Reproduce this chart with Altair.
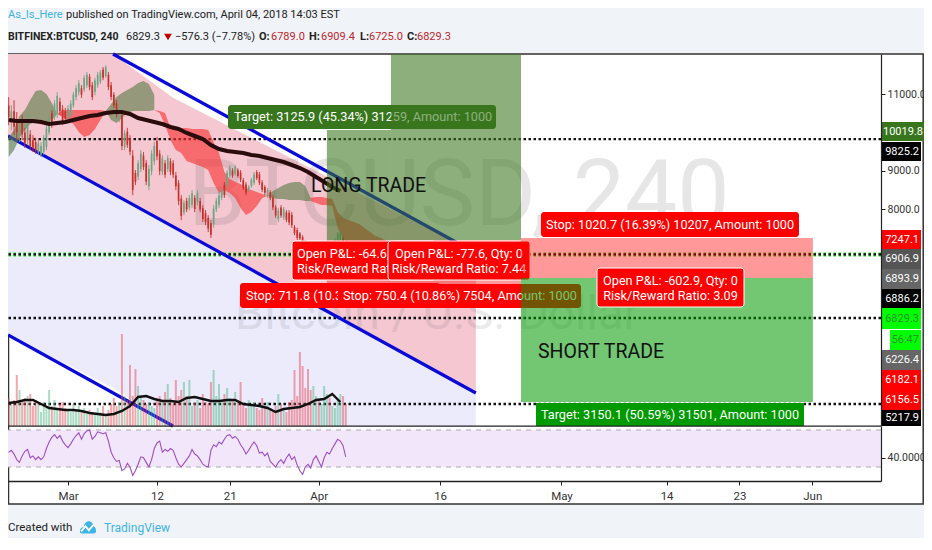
import altair as alt
import pandas as pd

FONT = "Roboto, Liberation Sans, sans-serif"

# ---------- data ----------
START = "2018-02-21 16:00"
OPENS = [10700,10250,10550,10350,9900,10250,10000,9800,9950,9800,9750,9480,9420,9500,9620,10000,10500,10400,10500,10800,10600,10550,10400,10450,10700,10920,11050,11150,11120,11230,11450,11230,11050,11230,11320,11640,11470,11500,11230,10980,10750,10330,10450,9620,10020,9850,9400,8950,8850,9050,9400,9200,8600,9000,9250,9780,9450,8980,9200,9050,9250,9200,8880,8680,8280,7920,8220,8050,8120,8300,8180,8220,8030,7900,7780,7640,7620,8000,8120,8300,8640,8630,8880,9010,8920,9020,8960,8760,8650,8490,8610,8690,8970,8910,8700,8580,8350,8450,8300,8050,7740,8050,7790,7920,7910,7860,7540,7460,7370,7280,7150,7000,6930,6730,6790,6880,6680,6790,6840,7040,6940,7000,7130,7180,7250,7120]
HIGHS = [10920,10710,10840,10530,10270,10450,10120,10450,10060,9930,9860,9800,9750,9930,10190,10450,10580,10840,11050,10900,10710,10640,10710,10840,11050,11230,11360,11230,11490,11570,11520,11310,11420,11570,11620,11700,11750,11570,11310,11050,10840,10640,10530,10060,10120,9930,9540,9020,9280,9540,9490,9280,9150,9540,9750,9880,9540,9410,9280,9410,9330,9280,8970,8760,8370,8240,8300,8370,8500,8370,8500,8300,8110,7980,7850,7720,8110,8300,8450,8560,8710,9020,9150,9070,9150,9070,9020,8820,8710,8630,8820,8970,9020,8970,8760,8630,8560,8500,8370,8110,8040,8110,8060,7980,7980,7930,7590,7520,7410,7330,7200,7070,7000,6940,7000,6940,6890,7000,7050,7100,7150,7260,7410,7460,7310,7200]
LOWS = [10190,10060,9930,9800,9750,9800,9600,9670,9540,9490,9440,9410,9360,9410,9540,9930,10120,10320,10380,10450,10190,10270,10320,10380,10640,10840,10970,10900,11050,11160,11100,10840,10970,11160,11260,11360,11420,11100,10840,10640,10380,10270,9540,9540,9600,9410,8370,8630,8760,8970,9020,8630,8500,8890,9150,9280,8890,8890,8820,8970,8890,8820,8500,8110,7720,7850,7930,7980,8040,7930,8110,7930,7670,7590,7410,7260,7520,7930,8040,8240,8300,8560,8820,8820,8870,8820,8710,8500,8370,8450,8560,8630,8760,8630,8450,8370,8300,8240,7980,7780,7670,7780,7720,7670,7590,7520,7330,7200,7200,7070,6890,6730,6630,6680,6740,6630,6630,6740,6790,6790,6890,6940,7070,7120,7000,6790]
CLOSES = [10400,10550,10150,10000,10150,9950,9720,10300,9650,9600,9520,9720,9650,9850,10100,10380,10220,10750,10950,10550,10300,10350,10620,10750,10980,11150,11280,10980,11420,11500,11180,10920,11350,11500,11560,11420,11700,11180,10920,10700,10450,10580,9650,9980,9680,9500,8500,8720,9200,9450,9100,8720,9050,9450,9650,9380,9000,9320,8900,9330,8980,8900,8600,8220,7830,8170,8000,8300,8420,8010,8430,8000,7750,7670,7500,7340,8020,8220,8370,8500,8370,8950,9090,8880,9100,8870,8770,8560,8430,8590,8770,8910,8810,8690,8510,8430,8510,8290,8050,7840,7970,7840,8000,7730,7660,7590,7380,7260,7240,7120,6950,6800,6700,6890,6950,6690,6840,6950,7000,6850,7100,7200,7350,7400,7060,6829.3]
VOLUMES = [28,22,26,51,36,24,28,30,32,20,26,22,14,24,18,36,20,26,16,22,24,18,16,14,22,16,20,14,18,12,16,14,12,18,14,20,12,16,22,28,20,24,92,30,26,61,30,57,40,28,26,22,24,20,18,26,30,26,34,42,28,22,46,30,36,44,30,46,20,24,26,18,32,24,22,44,56,30,42,26,32,38,28,26,34,24,44,22,18,26,20,24,18,16,28,20,24,18,14,20,32,22,18,14,24,26,56,30,74,60,38,57,36,40,30,26,22,40,32,28,20,18,26,32,30,22]
RSI = [46,48,44,38,35,42,47,49,40,42,38,41,38,41,50,57,62,65,61,64,58,54,51,55,60,64,67,60,66,69,70,60,63,68,67,66,67,58,46,40,36,37,26,28,34,30,21,26,33,41,40,35,30,38,50,56,58,46,49,47,50,48,40,33,30,34,38,42,49,44,42,38,33,31,30,48,54,52,57,55,60,64,65,61,63,60,54,50,44,48,53,57,53,45,46,42,45,36,33,30,35,38,34,40,44,38,41,32,26,22,30,33,29,38,42,36,30,40,46,44,50,55,60,58,53,41]
VOLUME_MA = [23,24,26,26,22,18,17,16,16,15,13,12,11,12,15,20,29,30,27,25,25,24,28,29,27,25,25,26,26,22,21,20,18,14,17,18,19,22,26,27,32,24]
EMA = [10324,10298,10298,10298,10272,10220,10246,10272,10324,10376,10428,10454,10506,10532,10532,10480,10376,10324,10272,10220,10142,10090,9986,9908,9830,9674,9570,9518,9492,9466,9414,9388,9336,9284,9232,9154,9076,8972,8842,8712,8582,8478]

CLOUD_PATCHES = [
    ("a", "up", 0,
     [9882,10064,10428,10584,10844,11078,11104,11000,10766,10480],
     [9362,9544,9856,10064,10220,10272,10272,10246,10324,10480]),
    ("b", "down", 9,
     [10480,10584,10584,10584,10584,10584,10584,10584,10584,10558],
     [10480,10402,10324,10220,10012,9882,9934,10090,10324,10558]),
    ("c", "up", 18,
     [10558,10740,10922,11026,11104,11182,11286,11338,11260,10974],
     [10558,10324,10246,10376,10506,10558,10558,10558,10558,10584]),
    ("d", "down", 27,
     [10584,10558,10506,10116,10116,10116,10116,10090,10090,10090,10064,9752,9466,8972,8790,8712,8660,8556,8504,8452,8400,8348],
     [10584,10506,10194,9804,9544,9466,9258,9206,9154,9102,9024,8686,8426,8504,8426,8296,8036,7854,7932,8088,8296,8348]),
    ("e", "up", 48,
     [8348,8478,8556,8634,8686,8712,8712,8608,8296],
     [8348,8296,8270,8270,8244,8244,8244,8218,8218]),
    ("f", "down", 56,
     [8296,8322,8322,8296,8270],
     [8218,8166,8114,8114,8088]),
    ("g", "down", 60,
     [8270,7932,7776,7724,7672,7620,7516,7412,7308,7256,7178],
     [8088,7516,7256,7074,6944,6944,6996,7048,7074,7100,7126]),
]

CHANNEL_DATES = ["2018-02-21T14:00:00Z", "2018-03-06T13:30:00Z", "2018-03-13T23:30:00Z", "2018-04-20T10:00:00Z"]
CHANNEL_TOP = [12040, 12040, 10900, 6866]
CHANNEL_MID = [9908, 8410, 7553, 3226]
CHANNEL_LOW = [4734, 3360, 2368, 2368]
LOW_LINE_DATES = ["2018-02-21T14:00:00Z", "2018-03-13T23:30:00Z"]
LOW_LINE_VALUES = [4734, 2368]
DOTTED_LEVELS = [9825.2, 6829.3, 5176, 2940]
GREEN_LEVEL = [6829.3]

X_TICKS = ["2018-03-01T00:00:00Z", "2018-03-12T00:00:00Z", "2018-03-21T00:00:00Z", "2018-04-01T00:00:00Z",
           "2018-04-16T00:00:00Z", "2018-05-01T00:00:00Z", "2018-05-14T00:00:00Z", "2018-05-23T00:00:00Z",
           "2018-06-01T00:00:00Z"]
PRICE_TICKS = [11000, 9000, 8000]
RSI_TICKS = [40]

# ---------- layout helpers (page pixels) ----------
ISO = "%Y-%m-%dT%H:%M:%SZ"
dates = pd.date_range(START, periods=len(OPENS), freq="8h").strftime(ISO).tolist()
cloud_dates = pd.date_range(START, periods=71, freq="16h").strftime(ISO).tolist()

W, H = 873, 427
X_SCALE = alt.Scale(type="utc", domain=["2018-02-21T14:00:00Z", "2018-06-09T12:00:00Z"], nice=False, padding=0)
PRICE_SCALE = alt.Scale(domain=[2368, 12040], range=[372, 0], nice=False, zero=False)
VOL_SCALE = alt.Scale(domain=[0, 100], range=[372, 272], nice=False, zero=False)
RSI_SCALE = alt.Scale(domain=[14.9, 74.3], range=[427, 372], nice=False, zero=False)
X_AXIS = alt.Axis(
    values=X_TICKS, labelExpr="utcdate(datum.value)==1 ? utcFormat(datum.value,'%b') : utcFormat(datum.value,'%-d')",
    grid=False, domainColor="#222222", domainWidth=1.6, tickColor="#222222", tickSize=4, labelColor="#333333",
    labelFont=FONT, labelFontSize=11.5, labelPadding=5, labelOverlap=False, zindex=1, title=None)

def X(f="d"):
    return alt.X(f"{f}:T", scale=X_SCALE, axis=X_AXIS, title=None)

def P(f="p", axis=None, scale=PRICE_SCALE):
    return alt.Y(f"{f}:Q", scale=scale, axis=axis, title=None)

def box(x0, x1, y0, y1, color, stroke=None, radius=0, opacity=1.0, sw=1.0):
    kw = dict(color=color, cornerRadius=radius, opacity=opacity, clip=False)
    if stroke:
        kw.update(stroke=stroke, strokeWidth=sw)
    return alt.Chart(pd.DataFrame({"a": [0]})).mark_rect(**kw).encode(
        x=alt.value(x0 - 8), x2=alt.value(x1 - 8), y=alt.value(y0 - 54), y2=alt.value(y1 - 54))

def label(t, x, y, size=12.7, color="#222222", bold=False, align="left", opacity=1.0, font=FONT):
    return alt.Chart(pd.DataFrame({"t": [t]})).mark_text(
        font=font, fontSize=size, color=color, align=align, baseline="middle",
        fontWeight="bold" if bold else "normal", opacity=opacity, clip=False
    ).encode(x=alt.value(x - 8), y=alt.value(y - 54), text="t:N")

layers = []

# frame and panes
layers.append(alt.Chart(pd.DataFrame({"a": [0]})).mark_rect(color="white", stroke="#333333", strokeWidth=1.5, clip=False).encode(
    x=alt.value(0.5), x2=alt.value(915.2), y=alt.value(0), y2=alt.value(450)))

# channel fills
chan = pd.DataFrame({"d": CHANNEL_DATES, "t": CHANNEL_TOP, "m": CHANNEL_MID, "l": CHANNEL_LOW})
layers.append(alt.Chart(chan).mark_area(color="#f4c7d1").encode(x=X(), y=P("t"), y2=alt.Y2("m:Q")))
layers.append(alt.Chart(chan).mark_area(color="#ebebfc").encode(x=X(), y=P("m"), y2=alt.Y2("l:Q")))

# watermark
layers.append(label("BTCUSD, 240", 188, 197, size=93, color="#444444", opacity=0.13))
layers.append(label("Bitcoin / U.S. Dollar", 235, 315, size=47, color="#444444", opacity=0.10))

# dotted levels
layers.append(alt.Chart(pd.DataFrame({"p": GREEN_LEVEL})).mark_rule(color="#1fe81f", strokeWidth=4, strokeDash=[2.5, 2.5]).encode(y=P()))
layers.append(alt.Chart(pd.DataFrame({"p": DOTTED_LEVELS})).mark_rule(color="#111111", strokeWidth=2.3, strokeDash=[2.5, 2.5]).encode(y=P()))

# channel lines
layers.append(alt.Chart(chan.iloc[[1, 3]]).mark_line(color="#0a0ad8", strokeWidth=3.2).encode(x=X(), y=P("t")))
layers.append(alt.Chart(chan).mark_line(color="#0a0ad8", strokeWidth=3.2).encode(x=X(), y=P("m")))
layers.append(alt.Chart(pd.DataFrame({"d": LOW_LINE_DATES, "p": LOW_LINE_VALUES})).mark_line(color="#0a0ad8", strokeWidth=3.2).encode(x=X(), y=P()))

# ichimoku cloud
rows = []
for name, kind, k0, top, bot in CLOUD_PATCHES:
    for i, (a, b) in enumerate(zip(top, bot)):
        rows.append({"patch": name, "kind": kind, "d": cloud_dates[k0 + i], "a": a, "b": b})
cloud = pd.DataFrame(rows)
layers.append(alt.Chart(cloud).mark_area(opacity=0.62).encode(
    x=X(), y=P("a"), y2=alt.Y2("b:Q"), detail="patch:N",
    color=alt.Color("kind:N", legend=None, scale=alt.Scale(domain=["up", "down"], range=["#5a7a45", "#f83030"])),
))

# candles
bars = pd.DataFrame({"d": dates, "o": OPENS, "h": HIGHS, "l": LOWS, "c": CLOSES, "v": VOLUMES, "r": RSI})
bars["dir"] = ["up" if c >= o else "down" for o, c in zip(OPENS, CLOSES)]
CANDLE = alt.Color("dir:N", legend=None, scale=alt.Scale(domain=["up", "down"], range=["#6ba583", "#c8302a"]))
layers.append(alt.Chart(bars).mark_rule(strokeWidth=0.9).encode(x=X(), y=P("h"), y2=alt.Y2("l:Q"), color=CANDLE))
layers.append(alt.Chart(bars).mark_bar(size=1.7).encode(x=X(), y=P("o"), y2=alt.Y2("c:Q"), color=CANDLE))

# volume
VOLC = alt.Color("dir:N", legend=None, scale=alt.Scale(domain=["up", "down"], range=["#53b987", "#eb4d5c"]))
layers.append(alt.Chart(bars).mark_bar(size=2, opacity=0.5).encode(
    x=X(), y=alt.Y("v:Q", scale=VOL_SCALE, axis=None, title=None, stack=None), color=VOLC))
ma = pd.DataFrame({"d": dates[::3], "v": VOLUME_MA, "e": EMA})
layers.append(alt.Chart(ma).mark_line(color="#111111", strokeWidth=2.4).encode(x=X(), y=alt.Y("v:Q", scale=VOL_SCALE, axis=None, title=None)))
layers.append(alt.Chart(ma).mark_line(color="#2a0c0c", strokeWidth=4).encode(x=X(), y=P("e")))

# long trade
layers.append(box(228, 496, 105, 129, "#38761d", radius=3))
layers.append(label("Target: 3125.9 (45.34%) 31259, Amount: 1000", 234, 117, color="white"))
long_rects = pd.DataFrame({
    "d": ["2018-04-02T00:00:00Z", "2018-04-09T22:00:00Z"], "d2": ["2018-04-09T22:00:00Z", "2018-04-26T00:00:00Z"],
    "p": [10064, 12040], "p2": [7204, 7204]})
layers.append(alt.Chart(long_rects).mark_rect(color="#38761d", opacity=0.58).encode(
    x=X(), x2=alt.X2("d2:T"), y=P("p"), y2=alt.Y2("p2:Q")))
long_stop = pd.DataFrame({"d": ["2018-04-02T00:00:00Z"], "d2": ["2018-04-26T00:00:00Z"], "p": [7204], "p2": [5982]})
layers.append(alt.Chart(long_stop).mark_rect(color="#ff0000", opacity=0.4).encode(
    x=X(), x2=alt.X2("d2:T"), y=P("p"), y2=alt.Y2("p2:Q")))
layers.append(label("LONG TRADE", 311, 186, size=19.5, color="#111111"))

# stops and open p&l
layers.append(box(240, 440, 283, 308, "#ff0000", radius=3))
layers.append(label("Stop: 711.8 (10.33%) 7118, Amount: 1000", 246, 295.5, color="white"))
layers.append(box(338, 581, 284, 308, "#ff0000", radius=3))
layers.append(label("Stop: 750.4 (10.86%) 7504, Amount: 1000", 343, 296, color="white"))
layers.append(box(292, 436, 241, 280, "#ff0000", stroke="white", radius=3))
layers.append(label("Open P&L: -64.6, Qty: 0", 297, 253.5, color="white"))
layers.append(label("Risk/Reward Ratio: 4.39", 297, 268.5, color="white"))
layers.append(box(388, 530, 241, 280, "#ff0000", stroke="white", radius=3))
layers.append(label("Open P&L: -77.6, Qty: 0", 459, 253.5, color="white", align="center"))
layers.append(label("Risk/Reward Ratio: 7.44", 459, 268.5, color="white", align="center"))

# short trade
short_rects = pd.DataFrame({"d": ["2018-04-26T00:00:00Z"], "d2": ["2018-06-01T02:00:00Z"], "p": [7256], "p2": [6216], "g": [2992]})
layers.append(alt.Chart(short_rects).mark_rect(color="#ff0000", opacity=0.4).encode(
    x=X(), x2=alt.X2("d2:T"), y=P("p"), y2=alt.Y2("p2:Q")))
layers.append(alt.Chart(short_rects).mark_rect(color="#009900", opacity=0.55).encode(
    x=X(), x2=alt.X2("d2:T"), y=P("p2"), y2=alt.Y2("g:Q")))
layers.append(box(541, 799, 212, 237, "#ff0000", radius=3))
layers.append(label("Stop: 1020.7 (16.39%) 10207, Amount: 1000", 670, 224.5, color="white", align="center"))
layers.append(box(597, 744, 268, 307, "#ff0000", stroke="white", radius=3))
layers.append(label("Open P&L: -602.9, Qty: 0", 670.5, 280.5, color="white", align="center"))
layers.append(label("Risk/Reward Ratio: 3.09", 670.5, 295.5, color="white", align="center"))
layers.append(box(536, 804, 403, 426, "#009900"))
layers.append(label("Target: 3150.1 (50.59%) 31501, Amount: 1000", 670, 415, color="white", align="center"))
layers.append(label("SHORT TRADE", 538, 352, size=19.5, color="#111111"))

# RSI pane
layers.append(alt.Chart(pd.DataFrame({"a": [70], "b": [30]})).mark_rect(color="#f2e6fb").encode(
    y=alt.Y("a:Q", scale=RSI_SCALE, axis=None, title=None), y2=alt.Y2("b:Q")))
layers.append(alt.Chart(pd.DataFrame({"r": [70, 30]})).mark_rule(color="#aaaaaa", strokeWidth=1, strokeDash=[5, 5]).encode(
    y=alt.Y("r:Q", scale=RSI_SCALE, axis=None, title=None)))
layers.append(alt.Chart(bars).mark_line(color="#9b4fc2", strokeWidth=1.1).encode(
    x=X(),
    y=alt.Y("r:Q", scale=RSI_SCALE, title=None, axis=alt.Axis(
        orient="right", values=RSI_TICKS, format=".4f", grid=False, domain=True, domainColor="#222222", domainWidth=1.2,
        tickColor="#222222", tickSize=4, labelColor="#333333", labelFont=FONT, labelFontSize=10.5, labelPadding=2, zindex=1))))

# pane separators
layers.append(box(8, 881, 425.5, 426.8, "#222222"))

# price axis
layers.append(alt.Chart(pd.DataFrame({"p": PRICE_TICKS})).mark_point(opacity=0).encode(
    y=P("p", axis=alt.Axis(orient="right", values=PRICE_TICKS, format=".1f", grid=False, domainColor="#222222", domainWidth=1.2,
                           tickColor="#222222", tickSize=4, labelColor="#333333", labelFont=FONT, labelFontSize=10.5,
                           labelPadding=2, zindex=1))))

# price tags
TAGS = [("10019.8", "#38761d", "white", 881, 926, 122, 141), ("9825.2", "#000000", "white", 881, 921, 142, 161),
        ("7247.1", "#ff0000", "white", 881, 921, 230, 249), ("6906.9", "#555555", "white", 881, 921, 249, 269),
        ("6893.9", "#666666", "white", 881, 921, 269, 289), ("6886.2", "#000000", "white", 881, 921, 289, 308),
        ("6829.3", "#00ff00", "#2b8f2b", 881, 921, 308, 329), ("56:47", "#00ff00", "#2b8f2b", 890, 921, 330, 350),
        ("6226.4", "#666666", "white", 881, 921, 350, 370), ("6182.1", "#ff0000", "white", 881, 921, 370, 390),
        ("6156.5", "#ff0000", "white", 881, 921, 390, 410), ("5217.9", "#000000", "white", 881, 921, 410, 426)]
for t, bg, fg, x0, x1, y0, y1 in TAGS:
    layers.append(box(x0, x1, y0, y1, bg))
    layers.append(label(t, 919 if x1 == 921 else 923, (y0 + y1) / 2, size=11, color=fg, align="right"))

# header
BLUE = "#3db4e6"
DRED = "#c0272d"
layers.append(label("As_Is_Here", 8, 15, size=11, color=BLUE))
layers.append(label("published on TradingView.com, April 04, 2018 14:03 EST", 66, 15, size=11))
layers.append(label("BITFINEX:BTCUSD, 240", 8, 37, size=10.5, bold=True))
layers.append(label("6829.3", 126, 37, size=11))
layers.append(alt.Chart(pd.DataFrame({"a": [0]})).mark_point(shape="triangle-down", filled=True, color="#c00000", size=60, opacity=1).encode(
    x=alt.value(160), y=alt.value(37 - 54)))
layers.append(label("\u2212576.3 (\u22127.78%)", 175, 37, size=11))
for t, x, c, b in [("O:", 259, "#222222", True), ("6789.0", 271, DRED, False), ("H:", 309, "#222222", True), ("6909.4", 321, DRED, False),
                   ("L:", 360, "#222222", True), ("6725.0", 369, DRED, False), ("C:", 407, "#222222", True), ("6829.3", 417, DRED, False)]:
    layers.append(label(t, x, 37, size=11, color=c, bold=b))

# footer
layers.append(label("Created with", 8, 528, size=11.5))
layers.append(alt.Chart(pd.DataFrame({"a": [0]})).mark_point(
    shape="M-1,0.55 C-1,0.2 -0.8,0.05 -0.55,0 C-0.45,-0.5 -0.1,-0.8 0.2,-0.7 C0.5,-0.65 0.65,-0.3 0.7,-0.05 C0.9,0 1,0.25 1,0.5 C1,0.75 0.85,0.8 0.7,0.8 L-0.7,0.8 C-0.9,0.8 -1,0.7 -1,0.55 Z",
    filled=True, color=BLUE, size=260, opacity=1).encode(x=alt.value(88 - 8), y=alt.value(527 - 54)))
layers.append(alt.Chart(pd.DataFrame({"a": [0]})).mark_point(
    shape="M-0.85,0.55 L-0.3,-0.1 L0.1,0.4 L0.65,-0.25", filled=False, color="white", strokeWidth=1.8, size=260, opacity=1).encode(
    x=alt.value(88 - 8), y=alt.value(527 - 54)))
layers.append(label("TradingView", 104, 528, size=12, color=BLUE))

chart = alt.layer(*layers).resolve_scale(y="independent", color="independent").properties(
    width=W, height=H,
    background="#f0f3f7",
    padding={"left": 0, "top": 46, "right": 43, "bottom": 57},
    autosize=alt.AutoSizeParams(type="none"),
).configure_view(stroke=None)

chart.save("out.html", embed_options={"renderer": "svg", "actions": False})
